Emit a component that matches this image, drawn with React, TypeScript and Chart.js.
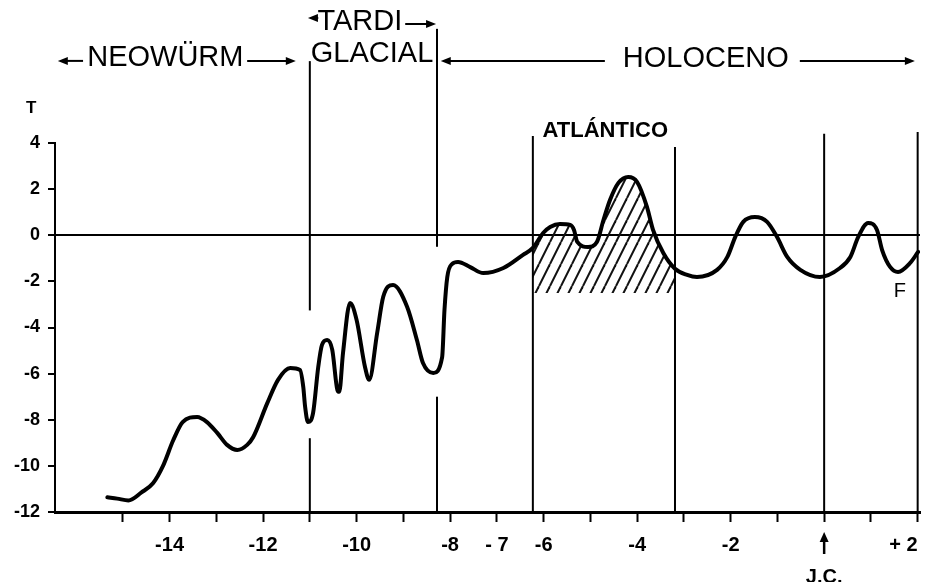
import React, { useEffect, useRef } from 'react';
import { Chart, registerables } from 'chart.js';

Chart.register(...registerables);

// ---- Data (thousands of years; temperature anomaly T) ----
const years = [
  -15.33, -15.12, -14.88, -14.6, -14.35, -14.14, -13.92, -13.72, -13.41, -13.2,
  -12.98, -12.77, -12.55, -12.34, -12.21, -11.91, -11.68, -11.42, -11.21, -11.14,
  -11.1, -11.04, -10.93, -10.82, -10.74, -10.63, -10.52, -10.41, -10.37, -10.29,
  -10.14, -10.0, -9.82, -9.73, -9.56, -9.43, -9.22, -8.92, -8.71, -8.58,
  -8.36, -8.17, -8.12, -8.06, -7.96, -7.83, -7.57, -7.29, -6.86, -6.44,
  -6.23, -6.01, -5.86, -5.65, -5.43, -5.35, -5.28, -5.05, -4.86, -4.72,
  -4.58, -4.4, -4.19, -4.0, -3.79, -3.66, -3.44, -3.19, -2.93, -2.72,
  -2.29, -2.07, -1.9, -1.73, -1.48, -1.22, -1.01, -0.79, -0.51, -0.09,
  0.34, 0.56, 0.73, 0.94, 1.13, 1.24, 1.41, 1.58, 1.84, 2.01,
];
const temps = [
  -11.36, -11.42, -11.5, -11.15, -10.74, -10.0, -8.88, -8.1, -7.88, -8.1,
  -8.57, -9.09, -9.31, -9.09, -8.75, -7.28, -6.27, -5.76, -5.84, -6.58,
  -7.45, -8.1, -7.7, -5.71, -4.75, -4.54, -4.97, -6.71, -6.79, -5.1,
  -2.94, -3.67, -5.71, -6.27, -4.24, -2.67, -2.16, -3.1, -4.54, -5.54,
  -5.97, -5.28, -3.24, -1.81, -1.25, -1.16, -1.38, -1.64, -1.42, -0.85,
  -0.55, 0.1, 0.36, 0.49, 0.45, 0.23, -0.29, -0.51, -0.29, 0.66,
  1.53, 2.27, 2.53, 2.31, 1.23, 0.23, -0.77, -1.45, -1.72, -1.81,
  -1.5, -0.94, -0.07, 0.58, 0.79, 0.58, -0.07, -0.94, -1.5, -1.81,
  -1.42, -0.94, -0.07, 0.53, 0.23, -0.64, -1.37, -1.59, -1.2, -0.72,
];

// Axis ranges / ticks
const xMin = -16.45;
const xMax = 2.05;
const xTickValues = [-15, -14, -13, -12, -11, -10, -9, -8, -7, -6, -5, -4, -3, -2, -1, 0, 1, 2];
const xLabelValues = [-14, -12, -10, -8, -7, -6, -4, -2, 0, 2];
const xLabelTexts = ['-14', '-12', '-10', '-8', '- 7', '-6', '-4', '-2', ' |J.C.', '+ 2'];
const yMin = -12;
const yMax = 4;
const yStep = 2;

// "J.C." marker arrow (year 0), drawn under the axis
const jcYear = 0;

// Period boundary lines (year, top value, optional gap [from, to])
const boundaryYears = [-11, -8.28, -6.23, -3.19, 0, 2];
const boundaryTops = [7.55, 8.95, 4.3, 3.83, 4.4, 4.48];
const boundaryGapTops = [-3.26, -0.5, null, null, null, null];
const boundaryGapBottoms = [-8.8, -7.0, null, null, null, null];

// Hatched Atlantic optimum
const hatchFrom = -6.23;
const hatchTo = -3.19;
const hatchFloor = -2.5;

// Header texts (x, y in data units)
const headerTexts = ['NEOWÜRM', 'TARDI', 'GLACIAL', 'HOLOCENO'];
const headerX = [-14.09, -9.93, -9.67, -2.53];
const headerY = [7.69, 9.25, 7.86, 7.65];
// Header arrows: from x, to x (arrow head), y
const arrowFrom = [-15.85, -12.34, -10.82, -8.96, -4.69, -0.52];
const arrowTo = [-16.39, -11.3, -11.04, -8.3, -8.2, 1.94];
const arrowY = [7.56, 7.56, 9.42, 9.16, 7.56, 7.56];

// Other annotations
const annTexts = ['T', 'F', 'ATLÁNTICO'];
const annX = [-16.96, 1.62, -4.68];
const annY = [5.52, -2.42, 4.52];

const FONT = '"Liberation Sans", Arial, "DejaVu Sans", sans-serif';

function makeHatch(): CanvasPattern | string {
  const c = document.createElement('canvas');
  c.width = 11;
  c.height = 22;
  const g = c.getContext('2d');
  if (!g) return 'rgba(0,0,0,0.3)';
  g.strokeStyle = '#111';
  g.lineWidth = 2;
  for (const k of [-1, 0, 1]) {
    g.beginPath();
    g.moveTo(k * 11, 22);
    g.lineTo(k * 11 + 11, 0);
    g.stroke();
  }
  return g.createPattern(c, 'repeat') || 'rgba(0,0,0,0.3)';
}

const annotationPlugin = {
  id: 'annotations',
  afterDraw(chart: any) {
    const ctx: CanvasRenderingContext2D = chart.ctx;
    const xs = chart.scales.x;
    const ys = chart.scales.y;
    const px = (v: number) => xs.getPixelForValue(v);
    const py = (v: number) => ys.getPixelForValue(v);
    ctx.save();
    ctx.strokeStyle = '#000';
    ctx.fillStyle = '#000';
    ctx.lineCap = 'butt';

    // boundary vertical lines
    ctx.lineWidth = 2;
    boundaryYears.forEach((yr, i) => {
      const x = px(yr);
      const segs: [number, number][] = [];
      const gt = boundaryGapTops[i];
      const gb = boundaryGapBottoms[i];
      if (gt !== null && gb !== null) {
        segs.push([boundaryTops[i], gt]);
        segs.push([gb, yMin]);
      } else {
        segs.push([boundaryTops[i], yMin]);
      }
      segs.forEach(([a, b]) => {
        ctx.beginPath();
        ctx.moveTo(x, py(a));
        ctx.lineTo(x, py(b));
        ctx.stroke();
      });
    });

    // header texts
    ctx.font = `29px ${FONT}`;
    ctx.textAlign = 'center';
    ctx.textBaseline = 'middle';
    headerTexts.forEach((t, i) => {
      ctx.fillText(t, px(headerX[i]), py(headerY[i]));
    });

    // header arrows
    ctx.lineWidth = 2;
    arrowFrom.forEach((f, i) => {
      const x1 = px(f);
      const x2 = px(arrowTo[i]);
      const y = py(arrowY[i]);
      const dir = Math.sign(x2 - x1);
      ctx.beginPath();
      ctx.moveTo(x1, y);
      ctx.lineTo(x2 - dir * 4, y);
      ctx.stroke();
      ctx.beginPath();
      ctx.moveTo(x2, y);
      ctx.lineTo(x2 - dir * 10, y - 4);
      ctx.lineTo(x2 - dir * 10, y + 4);
      ctx.closePath();
      ctx.fill();
    });

    // J.C. arrow under the x axis
    const ax = px(jcYear);
    const axisBottom = chart.chartArea.bottom;
    const headTop = axisBottom + 20;
    const tail = axisBottom + 42;
    ctx.lineWidth = 2.5;
    ctx.beginPath();
    ctx.moveTo(ax, tail);
    ctx.lineTo(ax, headTop + 6);
    ctx.stroke();
    ctx.beginPath();
    ctx.moveTo(ax, headTop);
    ctx.lineTo(ax - 4.5, headTop + 10);
    ctx.lineTo(ax + 4.5, headTop + 10);
    ctx.closePath();
    ctx.fill();

    // other annotations
    const annFonts = [`bold 17px ${FONT}`, `20px ${FONT}`, `bold 22px ${FONT}`];
    annTexts.forEach((t, i) => {
      ctx.font = annFonts[i];
      ctx.fillText(t, px(annX[i]), py(annY[i]));
    });
    ctx.restore();
  },
};

export default function App() {
  const canvasRef = useRef<HTMLCanvasElement | null>(null);

  useEffect(() => {
    const canvas = canvasRef.current;
    if (!canvas) return;
    Chart.defaults.font.family = FONT;
    Chart.defaults.color = '#000';

    const mainData = years.map((x, i) => ({ x, y: temps[i] }));
    const hatchData = years
      .map((x, i) => ({ x, y: temps[i] }))
      .filter((p) => p.x >= hatchFrom - 1e-9 && p.x <= hatchTo + 1e-9);

    const chart = new Chart(canvas, {
      type: 'line',
      data: {
        datasets: [
          {
            label: 'T',
            data: mainData,
            borderColor: '#000',
            borderWidth: 4,
            pointRadius: 0,
            fill: false,
            cubicInterpolationMode: 'monotone',
            borderCapStyle: 'round',
            borderJoinStyle: 'round',
          },
          {
            label: 'Atlántico',
            data: hatchData,
            borderWidth: 0,
            borderColor: 'rgba(0,0,0,0)',
            pointRadius: 0,
            backgroundColor: makeHatch() as any,
            fill: { value: hatchFloor },
            cubicInterpolationMode: 'monotone',
          },
        ],
      },
      options: {
        responsive: false,
        animation: false,
        layout: { padding: { top: 143, right: 5, left: 0, bottom: 0 } },
        plugins: {
          legend: { display: false },
          tooltip: { enabled: false },
        },
        scales: {
          x: {
            type: 'linear',
            min: xMin,
            max: xMax,
            afterBuildTicks: (scale: any) => {
              scale.ticks = xTickValues.map((v) => ({ value: v }));
            },
            afterFit: (scale: any) => {
              scale.height = 70;
              scale.paddingLeft = 0;
              scale.paddingRight = 0;
            },
            ticks: {
              autoSkip: false,
              maxRotation: 0,
              minRotation: 0,
              align: 'inner',
              padding: 7,
              color: '#000',
              font: { size: 20, weight: 'bold', lineHeight: 1.6 },
              callback: (value: any) => {
                const idx = xLabelValues.indexOf(Number(value));
                if (idx < 0) return '';
                const t = xLabelTexts[idx];
                return t.includes('|') ? t.split('|') : t;
              },
            },
            grid: {
              drawOnChartArea: false,
              drawTicks: true,
              tickLength: 10,
              tickColor: '#000',
              tickWidth: 2,
            },
            border: { color: '#000', width: 3 },
          },
          y: {
            type: 'linear',
            min: yMin,
            max: yMax,
            afterFit: (scale: any) => {
              scale.width = 55;
              scale.paddingTop = 0;
              scale.paddingBottom = 0;
            },
            ticks: {
              stepSize: yStep,
              padding: 8,
              color: '#000',
              font: { size: 18, weight: 'bold' },
            },
            grid: {
              color: (c: any) => (c.tick && c.tick.value === 0 ? '#000' : 'rgba(0,0,0,0)'),
              lineWidth: 2,
              drawTicks: true,
              tickLength: 7,
              tickColor: '#000',
              tickWidth: 2,
            },
            border: { color: '#000', width: 2 },
          },
        },
      } as any,
      plugins: [annotationPlugin],
    });

    return () => chart.destroy();
  }, []);

  return (
    <div style={{ position: 'absolute', left: 0, top: 0, width: 925, height: 582, background: '#fff' }}>
      <canvas ref={canvasRef} width={925} height={582} style={{ display: 'block' }} />
    </div>
  );
}
